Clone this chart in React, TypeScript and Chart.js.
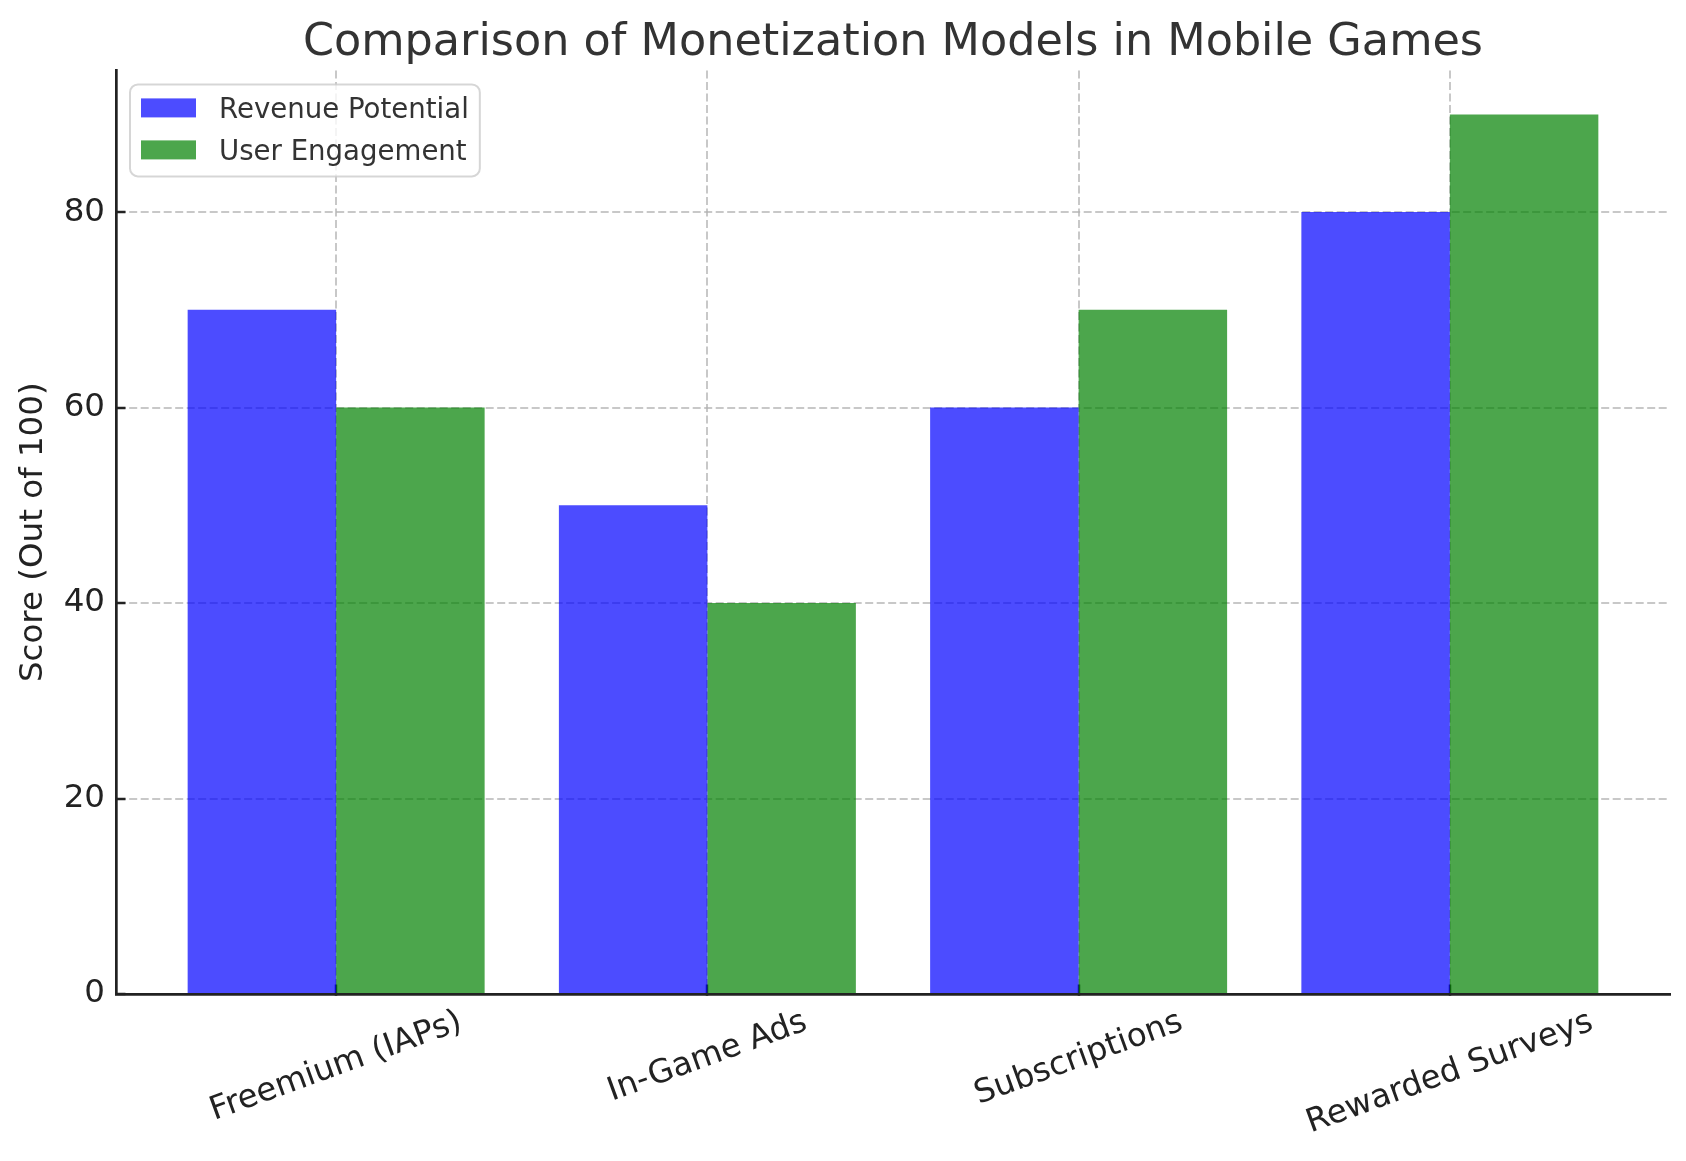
import { useRef, useEffect } from "react";
import { Chart, registerables } from "chart.js";

Chart.register(...registerables);

const categories = ["Freemium (IAPs)", "In-Game Ads", "Subscriptions", "Rewarded Surveys"];
const seriesNames = ["Revenue Potential", "User Engagement"];
const revenuePotential = [70, 50, 60, 80];
const userEngagement = [60, 40, 70, 90];
const yTicks = [0, 20, 40, 60, 80];

const FONT = "'DejaVu Sans', sans-serif";
const GRID_COLOR = "rgba(176, 176, 176, 0.7)";
const AXIS_COLOR = "#222222";

// x tick labels: rotated 20deg, centred under the tick like matplotlib does
const rotatedXLabels = {
  id: "rotatedXLabels",
  afterDraw(chart: any) {
    const { ctx, chartArea, scales } = chart;
    const xScale = scales.x;
    const size = 32.5;
    const angle = (20 * Math.PI) / 180;
    ctx.save();
    ctx.font = `${size}px ${FONT}`;
    ctx.fillStyle = AXIS_COLOR;
    ctx.textAlign = "center";
    ctx.textBaseline = "middle";
    categories.forEach((label, i) => {
      const w = ctx.measureText(label).width;
      const h = size * 1.164;
      const boxH = w * Math.sin(angle) + h * Math.cos(angle);
      const cx = xScale.getPixelForValue(i);
      const cy = chartArea.bottom + 9.5 + boxH / 2;
      ctx.save();
      ctx.translate(cx, cy);
      ctx.rotate(-angle);
      ctx.fillText(label, 0, 0);
      ctx.restore();
    });
    ctx.restore();
  },
};

// legend drawn inside the plot area, upper left
const insideLegend = {
  id: "insideLegend",
  afterDraw(chart: any) {
    const { ctx, chartArea } = chart;
    const size = 27.6;
    ctx.save();
    ctx.font = `${size}px ${FONT}`;
    const items = chart.data.datasets.map((d: any) => ({ label: d.label, color: d.backgroundColor }));
    const textW = Math.max(...items.map((it: any) => ctx.measureText(it.label).width));
    const left = chartArea.left + 14;
    const top = chartArea.top + 14;
    const inner = 11;
    const handleW = 55;
    const handleH = 19;
    const gap = 23;
    const pitch = 42;
    const boxW = inner + handleW + gap + textW + inner;
    const boxH = 92;

    ctx.beginPath();
    ctx.roundRect(left, top, boxW, boxH, 8);
    ctx.fillStyle = "rgba(255, 255, 255, 0.8)";
    ctx.fill();
    ctx.lineWidth = 2;
    ctx.strokeStyle = "rgba(204, 204, 204, 0.8)";
    ctx.stroke();

    items.forEach((it: any, i: number) => {
      const cy = top + 23.5 + i * pitch;
      ctx.fillStyle = it.color;
      ctx.fillRect(left + inner, cy - handleH / 2, handleW, handleH);
      ctx.fillStyle = "#333333";
      ctx.textAlign = "left";
      ctx.textBaseline = "alphabetic";
      ctx.fillText(it.label, left + inner + handleW + gap, cy + 10);
    });
    ctx.restore();
  },
};

const App = () => {
  const chartRef = useRef<HTMLCanvasElement | null>(null);
  const chartInstance = useRef<Chart | null>(null);

  useEffect(() => {
    if (!chartRef.current) return;
    if (chartInstance.current) {
      chartInstance.current.destroy();
    }
    const ctx = chartRef.current.getContext("2d");
    if (!ctx) return;

    chartInstance.current = new Chart(ctx, {
      type: "bar",
      data: {
        datasets: [
          {
            label: seriesNames[0],
            data: revenuePotential.map((v, i) => ({ x: i, y: v })),
            backgroundColor: "rgba(0, 0, 255, 0.7)",
            borderWidth: 0,
          },
          {
            label: seriesNames[1],
            data: userEngagement.map((v, i) => ({ x: i, y: v })),
            backgroundColor: "rgba(0, 128, 0, 0.7)",
            borderWidth: 0,
          },
        ],
      },
      options: {
        animation: false,
        responsive: true,
        maintainAspectRatio: false,
        layout: { padding: { top: 0, right: 16, bottom: 0, left: 0 } },
        datasets: {
          bar: { categoryPercentage: 0.8, barPercentage: 1.0 },
        },
        plugins: {
          legend: { display: false },
          tooltip: { enabled: false },
          title: {
            display: true,
            text: "Comparison of Monetization Models in Mobile Games",
            fullSize: false,
            color: "#333333",
            font: { family: FONT, size: 44.5, weight: "normal", lineHeight: 1.2 },
            padding: { top: 17, bottom: 0 },
          },
        },
        scales: {
          x: {
            type: "linear",
            min: -0.593,
            max: 3.593,
            offset: false,
            z: 1,
            afterBuildTicks: (scale: any) => {
              scale.ticks = categories.map((_, i) => ({ value: i }));
            },
            afterFit: (scale: any) => {
              scale.height = 167;
            },
            ticks: { display: false },
            grid: {
              offset: false,
              color: GRID_COLOR,
              lineWidth: 2,
              drawTicks: true,
              tickLength: -9.5,
              tickColor: AXIS_COLOR,
              tickWidth: 2.5,
            },
            border: { display: true, color: AXIS_COLOR, width: 2.7, dash: [8, 3.5] },
          },
          y: {
            min: 0,
            max: 94.5,
            z: 1,
            afterBuildTicks: (scale: any) => {
              scale.ticks = yTicks.map((v) => ({ value: v }));
            },
            afterFit: (scale: any) => {
              scale.width = 116;
            },
            ticks: {
              color: AXIS_COLOR,
              font: { family: FONT, size: 32.5 },
              padding: 20.5,
            },
            title: {
              display: true,
              text: "Score (Out of 100)",
              color: AXIS_COLOR,
              font: { family: FONT, size: 32.5 },
              padding: { top: 14, bottom: 0 },
            },
            grid: {
              color: GRID_COLOR,
              lineWidth: 2,
              drawTicks: true,
              tickLength: -9.5,
              tickColor: AXIS_COLOR,
              tickWidth: 2.5,
            },
            border: { display: true, color: AXIS_COLOR, width: 2.7, dash: [8, 3.5] },
          },
        },
      } as any,
      plugins: [rotatedXLabels, insideLegend],
    });

    return () => {
      if (chartInstance.current) {
        chartInstance.current.destroy();
        chartInstance.current = null;
      }
    };
  }, []);

  return (
    <div style={{ position: "fixed", left: 0, top: 0, width: 1686, height: 1161, background: "#fff" }}>
      <canvas ref={chartRef} />
    </div>
  );
};

export default App;
